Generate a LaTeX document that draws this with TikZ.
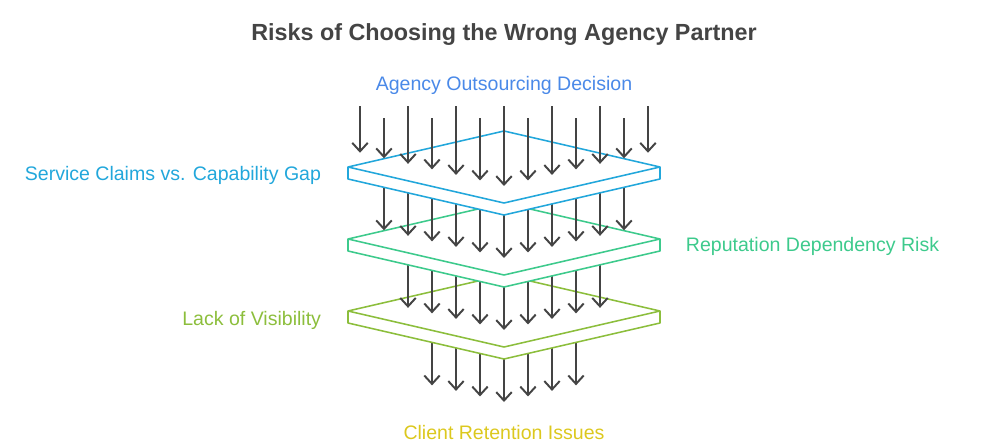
\documentclass[tikz,border=0pt]{standalone}
\usepackage{fontspec}
\setmainfont{Liberation Sans}
\usetikzlibrary{arrows.meta}
\definecolor{ink}{HTML}{444444}
\definecolor{decision}{HTML}{4A89E8}
\definecolor{sky}{HTML}{22A7DB}
\definecolor{leaf}{HTML}{3DCA8C}
\definecolor{lime}{HTML}{8CBE3C}
\definecolor{gold}{HTML}{DCC81E}
\tikzset{flow/.style={-{Straight Barb[length=6pt,width=11pt]}, line width=1.4pt, draw=ink},
  plate/.style={line width=1.1pt, fill=white, line join=round},
  lbl/.style={font=\fontsize{13.9}{16}\selectfont}}

\begin{document}
\begin{tikzpicture}[x=0.025cm, y=-0.025cm]
  \useasboundingbox (0,0) rectangle (1008,448);
  \node[font=\bfseries\fontsize{16.6}{19}\selectfont, text=ink] (title) at (504,35) {Risks of Choosing the Wrong Agency Partner};
  \node[lbl, text=decision] (decision) at (504,85) {Agency Outsourcing Decision};
  % arrows leaving the lowest plate
  \foreach \i in {-3,...,3}{
    \pgfmathsetmacro{\tip}{383+19-5.54*abs(\i)}
    \draw[flow] (504+24*\i,311) -- (504+24*\i,\tip);}
  % plates, bottom to top, each with the arrows landing on it
  \foreach \k/\yc/\col in {3/311/lime, 2/239/leaf, 1/167/sky}{
    \draw[plate, draw=\col] (504,\yc-36) -- (660,\yc) -- (660,\yc+12) -- (504,\yc+48)
      -- (348,\yc+12) -- (348,\yc) -- cycle;
    \draw[plate, draw=\col, fill=none] (348,\yc) -- (504,\yc+36) -- (660,\yc);
    \pgfmathtruncatemacro{\n}{7-\k}
    \foreach \i in {-\n,...,\n}{
      \pgfmathsetmacro{\tip}{\yc+19-5.54*abs(\i)}
      \pgfmathsetmacro{\start}{\k==1 ? (isodd(\i) ? 118 : 106) : \yc-72}
      \draw[flow] (504+24*\i,\start) -- (504+24*\i,\tip);}
  }
  % labels
  \node[lbl, text=sky, anchor=east] (claims) at (326,175) {Service Claims vs. Capability Gap};
  \node[lbl, text=leaf, anchor=west] (reputation) at (681,246) {Reputation Dependency Risk};
  \node[lbl, text=lime, anchor=east] (visibility) at (326,320) {Lack of Visibility};
  \node[lbl, text=gold] (retention) at (504,433) {Client Retention Issues};
\end{tikzpicture}
\end{document}
